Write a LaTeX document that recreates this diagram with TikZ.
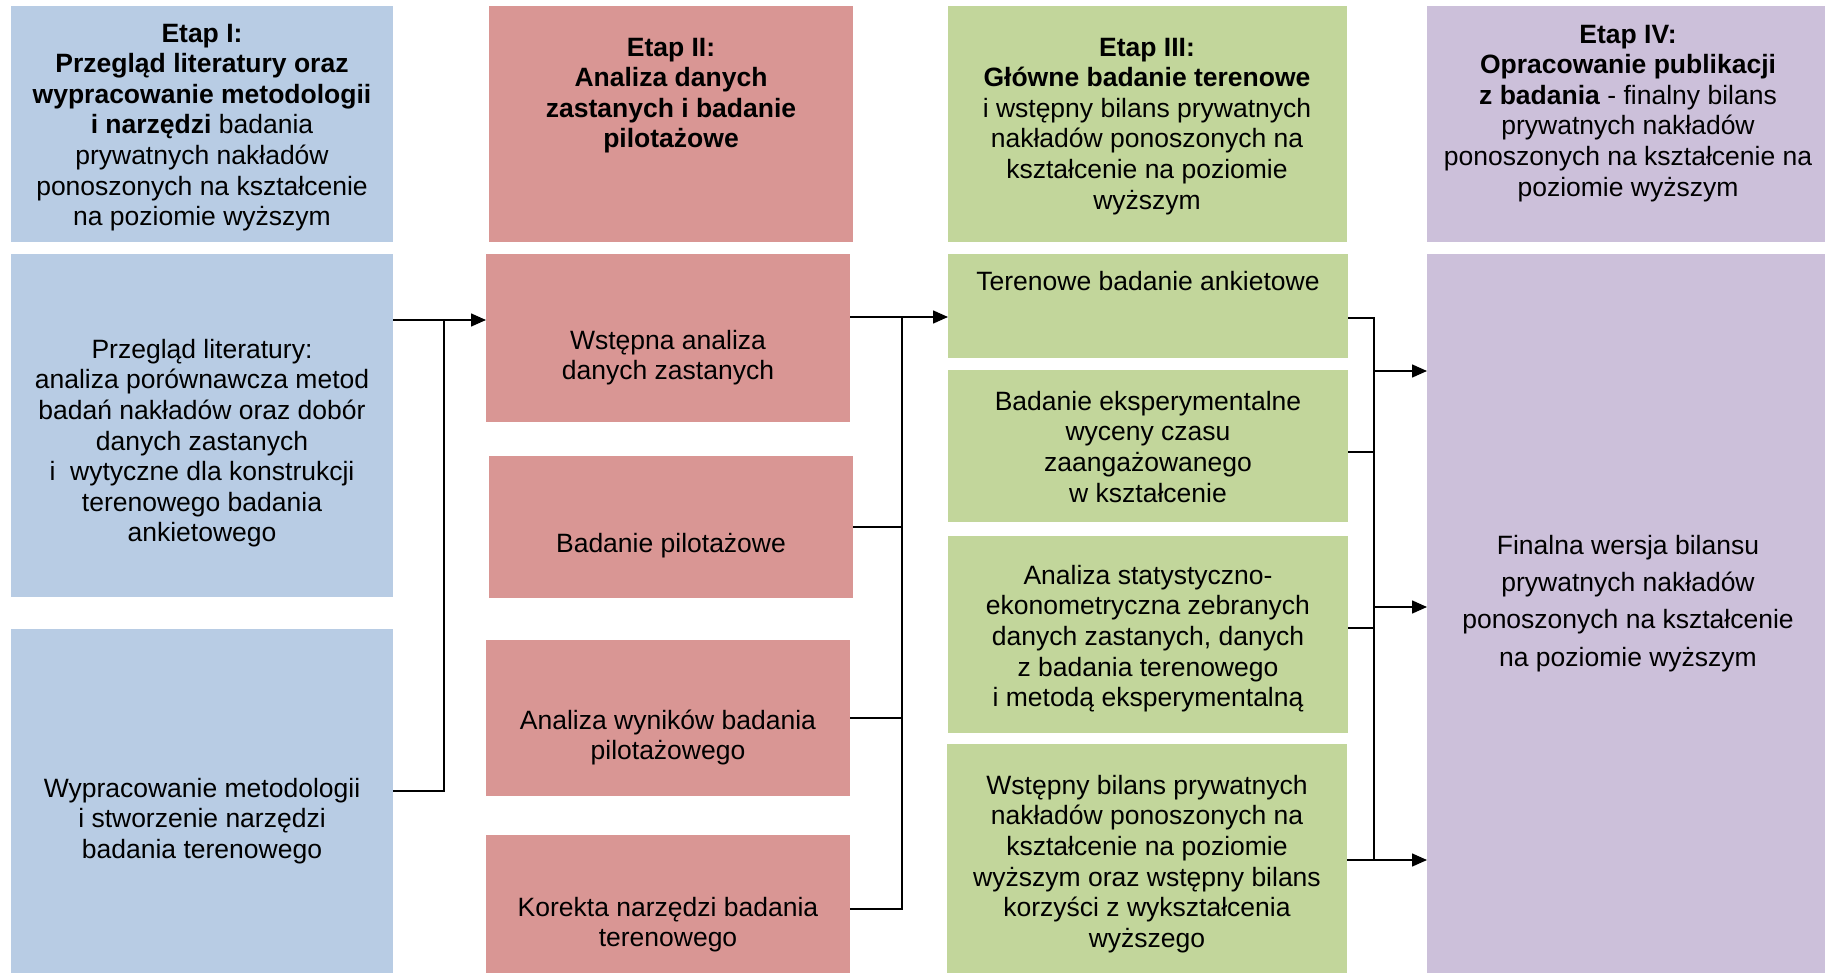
\documentclass[tikz,border=0pt]{standalone}
\usepackage{fontspec}
\setmainfont{Liberation Sans}
\usetikzlibrary{arrows.meta,fit}

\definecolor{cblue}{HTML}{B8CCE4}
\definecolor{cred}{HTML}{D99694}
\definecolor{cgreen}{HTML}{C2D69B}
\definecolor{cpurple}{HTML}{CCC0DA}

% invisible rule that fixes the height of the first line of a text block
\newcommand{\firstln}{\rule{0pt}{21pt}}

\begin{document}
\begin{tikzpicture}[x=1pt,y=-1pt,
  box/.style={rectangle, inner sep=0pt, outer sep=0pt, draw=none},
  txt/.style={anchor=north, align=center, inner sep=0pt,
              font=\fontsize{26.5pt}{30.6pt}\selectfont},
  ln/.style={draw=black, line width=1.5pt},
  arr/.style={ln, -{Triangle[length=15pt,width=13pt]}}]
\useasboundingbox (0,0) rectangle (1825,973);

% ---------- stage headers ----------
\node[box, fill=cblue,   fit={(11,6) (393,242)}]    (H1) {};
\node[box, fill=cred,    fit={(489,6) (853,242)}]   (H2) {};
\node[box, fill=cgreen,  fit={(948,6) (1347,242)}]  (H3) {};
\node[box, fill=cpurple, fit={(1427,6) (1825,242)}] (H4) {};

\node[txt] (H1t) at (202,21) {\firstln\textbf{Etap I:}\\
  \textbf{Przegląd literatury oraz}\\
  \textbf{wypracowanie metodologii}\\
  \textbf{i narzędzi} badania\\
  prywatnych nakładów\\
  ponoszonych na kształcenie\\
  na poziomie wyższym};
\node[txt] (H2t) at (671,35) {\firstln\textbf{Etap II:}\\
  \textbf{Analiza danych}\\
  \textbf{zastanych i badanie}\\
  \textbf{pilotażowe}};
\node[txt] (H3t) at (1147,35) {\firstln\textbf{Etap III:}\\
  \textbf{Główne badanie terenowe}\\
  i wstępny bilans prywatnych\\
  nakładów ponoszonych na\\
  kształcenie na poziomie\\
  wyższym};
\node[txt] (H4t) at (1628,22)
  {\firstln\textbf{Etap IV:}\\
  \textbf{Opracowanie publikacji}\\
  \textbf{z badania} - finalny bilans\\
  prywatnych nakładów\\
  ponoszonych na kształcenie na\\
  poziomie wyższym};

% ---------- stage I ----------
\node[box, fill=cblue, fit={(11,254) (393,597)}] (B1) {};
\node[box, fill=cblue, fit={(11,629) (393,973)}] (B2) {};
\node[txt] (B1t) at (202,337) {\firstln Przegląd literatury:\\
  analiza porównawcza metod\\
  badań nakładów oraz dobór\\
  danych zastanych\\
  i\ \ wytyczne dla konstrukcji\\
  terenowego badania\\
  ankietowego};
\node[txt] (B2t) at (202,776) {\firstln Wypracowanie metodologii\\
  i stworzenie narzędzi\\
  badania terenowego};

% ---------- stage II ----------
\node[box, fill=cred, fit={(486,254) (850,422)}] (R1) {};
\node[box, fill=cred, fit={(489,456) (853,598)}] (R2) {};
\node[box, fill=cred, fit={(486,640) (850,796)}] (R3) {};
\node[box, fill=cred, fit={(486,835) (850,973)}] (R4) {};
\node[txt] (R1t) at (668,328) {\firstln Wstępna analiza\\ danych zastanych};
\node[txt] (R2t) at (671,531) {\firstln Badanie pilotażowe};
\node[txt] (R3t) at (668,708) {\firstln Analiza wyników badania\\ pilotażowego};
\node[txt] (R4t) at (668,895) {\firstln Korekta narzędzi badania\\ terenowego};

% ---------- stage III ----------
\node[box, fill=cgreen, fit={(948,254) (1348,358)}] (G1) {};
\node[box, fill=cgreen, fit={(948,370) (1348,522)}] (G2) {};
\node[box, fill=cgreen, fit={(948,536) (1348,733)}] (G3) {};
\node[box, fill=cgreen, fit={(947,744) (1347,973)}] (G4) {};
\node[txt] (G1t) at (1148,269) {\firstln Terenowe badanie ankietowe};
\node[txt] (G2t) at (1148,389) {\firstln Badanie eksperymentalne\\
  wyceny czasu\\ zaangażowanego\\ w kształcenie};
\node[txt] (G3t) at (1148,563) {\firstln Analiza statystyczno-\\
  ekonometryczna zebranych\\ danych zastanych, danych\\
  z badania terenowego\\ i metodą eksperymentalną};
\node[txt] (G4t) at (1147,773) {\firstln Wstępny bilans prywatnych\\
  nakładów ponoszonych na\\ kształcenie na poziomie\\
  wyższym oraz wstępny bilans\\ korzyści z wykształcenia\\ wyższego};

% ---------- stage IV ----------
\node[box, fill=cpurple, fit={(1427,254) (1825,973)}] (P1) {};
\node[txt, font=\fontsize{26.5pt}{37.3pt}\selectfont] (P1t) at (1628,533)
  {\firstln Finalna wersja bilansu\\ prywatnych nakładów\\
  ponoszonych na kształcenie\\ na poziomie wyższym};

% ---------- connectors I -> II ----------
\coordinate (jL)  at (444,320);
\coordinate (jLb) at (444,791);
\draw[ln] (B2.east |- jLb) -- (jLb) -- (jL);
\draw[arr] (B1.east |- jL) -- (R1.west |- jL);

% ---------- connectors II -> III ----------
\coordinate (jM)  at (902,317);
\coordinate (jMb) at (902,909);
\draw[arr] (R1.east |- jM) -- (G1.west |- jM);
\draw[ln] (R4.east |- jMb) -- (jMb) -- (jM);
\draw[ln] (R2.east) -- (R2.east -| jM);
\draw[ln] (R3.east) -- (R3.east -| jM);

% ---------- connectors III -> IV ----------
\coordinate (jR)  at (1374,318);
\coordinate (jR2) at (1374,452);
\coordinate (jR3) at (1374,628);
\coordinate (jRb) at (1374,860);
\coordinate (aR1) at (1374,371);
\coordinate (aR2) at (1374,607);
\draw[ln] (G1.east |- jR) -- (jR) -- (jRb) -- (G4.east |- jRb);
\draw[ln] (G2.east |- jR2) -- (jR2);
\draw[ln] (G3.east |- jR3) -- (jR3);
\draw[arr] (aR1) -- (P1.west |- aR1);
\draw[arr] (aR2) -- (P1.west |- aR2);
\draw[arr] (jRb) -- (P1.west |- jRb);
\end{tikzpicture}
\end{document}
